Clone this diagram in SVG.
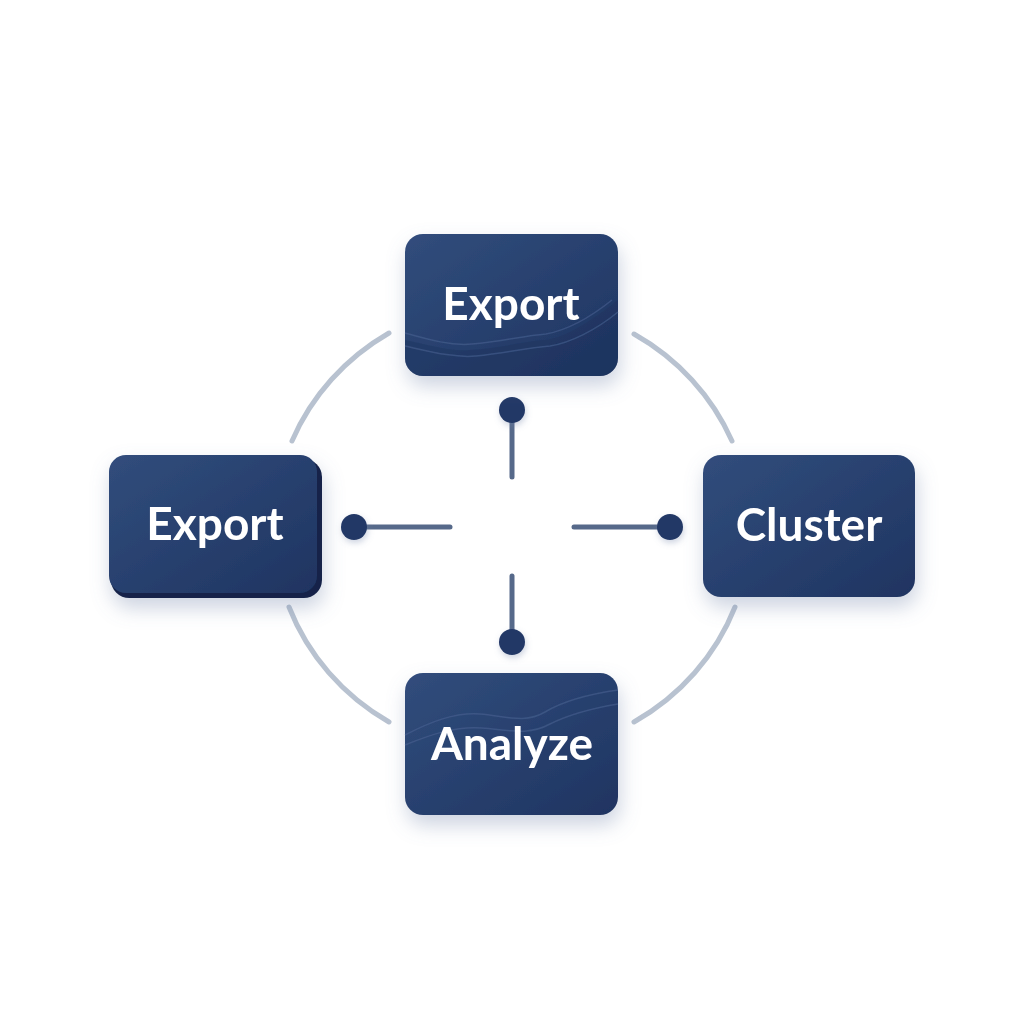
<svg xmlns="http://www.w3.org/2000/svg" width="1024" height="1024" viewBox="0 0 1024 1024">
  <defs>
    <linearGradient id="nodeFill" x1="0" y1="0" x2="1" y2="1">
      <stop offset="0" stop-color="#314d7c"/>
      <stop offset="1" stop-color="#1f3461"/>
    </linearGradient>
    <filter id="shadow" x="-30%" y="-30%" width="160%" height="170%">
      <feGaussianBlur in="SourceAlpha" stdDeviation="10"/>
      <feOffset dx="2" dy="10" result="b"/>
      <feFlood flood-color="#6f82a8" flood-opacity="0.35"/>
      <feComposite in2="b" operator="in"/>
      <feMerge><feMergeNode/><feMergeNode in="SourceGraphic"/></feMerge>
    </filter>
    <filter id="dotShadow" x="-80%" y="-80%" width="260%" height="260%">
      <feGaussianBlur in="SourceAlpha" stdDeviation="3"/>
      <feOffset dx="1" dy="3" result="b"/>
      <feFlood flood-color="#6f82a8" flood-opacity="0.35"/>
      <feComposite in2="b" operator="in"/>
      <feMerge><feMergeNode/><feMergeNode in="SourceGraphic"/></feMerge>
    </filter>
    <style>
      .node { fill: url(#nodeFill); }
      .edge3d { fill: #14234a; }
      .wave { fill: none; stroke: #4a6593; stroke-width: 1.5; opacity: 0.55; }
      .waveFill { fill: #1d325e; opacity: 0.45; }
      .label { font-family: Lato, "Open Sans", "Liberation Sans", sans-serif; font-weight: 700; font-size: 46px; fill: #ffffff; text-anchor: middle; }
      .ring { fill: none; stroke: #b8c2d0; stroke-width: 5; stroke-linecap: round; }
      .stem { stroke: #56698a; stroke-width: 5; stroke-linecap: round; }
      .dot { fill: #203766; }
    </style>
  </defs>
  <rect width="1024" height="1024" fill="#ffffff"/>

  <g id="ring">
    <path class="ring" d="M 389 333 A 237 227 0 0 0 292 441"/>
    <path class="ring" d="M 634 334 A 237 227 0 0 1 732 441"/>
    <path class="ring" d="M 289 607 A 237 227 0 0 0 389 722"/>
    <path class="ring" d="M 735 607 A 237 227 0 0 1 634 722"/>
  </g>

  <g id="connectors">
    <line class="stem" x1="512" y1="412" x2="512" y2="477"/>
    <circle class="dot" cx="512" cy="410" r="13" filter="url(#dotShadow)"/>
    <line class="stem" x1="356" y1="527" x2="450" y2="527"/>
    <circle class="dot" cx="354" cy="527" r="13" filter="url(#dotShadow)"/>
    <line class="stem" x1="574" y1="527" x2="668" y2="527"/>
    <circle class="dot" cx="670" cy="527" r="13" filter="url(#dotShadow)"/>
    <line class="stem" x1="512" y1="576" x2="512" y2="640"/>
    <circle class="dot" cx="512" cy="642" r="13" filter="url(#dotShadow)"/>
  </g>

  <g id="node-export-top" filter="url(#shadow)">
    <rect class="node" x="405" y="234" width="213" height="142" rx="18"/>
    <path class="waveFill" d="M 405 340 C 430 345 450 352 470 350 C 500 348 520 342 545 340 C 565 338 590 322 618 300 L 618 358 A 18 18 0 0 1 600 376 L 423 376 A 18 18 0 0 1 405 358 Z"/>
    <path class="wave" d="M 405 333 C 430 340 452 346 472 344 C 500 342 522 336 546 334 C 568 330 592 316 612 300"/>
    <path class="wave" d="M 405 346 C 432 352 455 358 476 356 C 505 353 525 348 550 346 C 570 343 596 330 618 312"/>
    <text class="label" x="511" y="320">Export</text>
  </g>

  <g id="node-export-left" filter="url(#shadow)">
    <rect class="edge3d" x="111" y="459" width="211" height="139" rx="18"/>
    <rect class="node" x="109" y="455" width="208" height="138" rx="17"/>
    <text class="label" x="215" y="540">Export</text>
  </g>

  <g id="node-cluster" filter="url(#shadow)">
    <rect class="node" x="703" y="455" width="212" height="142" rx="18"/>
    <text class="label" x="809" y="541">Cluster</text>
  </g>

  <g id="node-analyze" filter="url(#shadow)">
    <rect class="node" x="405" y="673" width="213" height="142" rx="18"/>
    <path class="wave" d="M 405 735 C 430 722 455 712 480 714 C 505 716 525 724 545 712 C 565 700 590 694 618 690"/>
    <path class="wave" d="M 405 745 C 432 734 456 726 482 728 C 508 730 528 736 550 724 C 570 714 594 708 618 704"/>
    <text class="label" x="512" y="760">Analyze</text>
  </g>
</svg>
